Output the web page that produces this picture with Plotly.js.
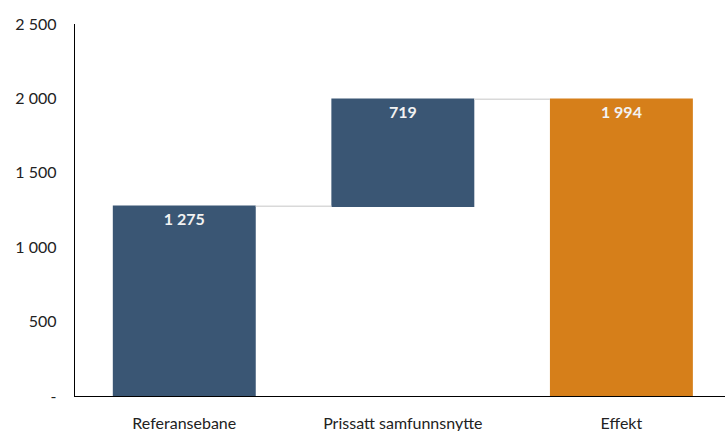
<!DOCTYPE html>
<html>
<head>
<meta charset="utf-8">
<script src="https://cdn.plot.ly/plotly-3.0.1.min.js"></script>
<style>html,body{margin:0;padding:0;background:#fff;}#chart{width:725px;height:431px;}</style>
</head>
<body>
<div id="chart"></div>
<script>
const categories = ["Referansebane", "Prissatt samfunnsnytte", "Effekt"];
const measures = ["relative", "relative", "total"];
const values = [1275, 719, 0];
const barLabels = ["1 275", "719", "1 994"];
const yTickVals = [0, 500, 1000, 1500, 2000, 2500];
const yTickText = ["-", "500", "1 000", "1 500", "2 000", "2 500"];

const trace = {
  type: "waterfall",
  x: categories,
  y: values,
  measure: measures,
  text: barLabels,
  textposition: "inside",
  insidetextanchor: "end",
  textfont: {family: "Lato, 'Open Sans', sans-serif", size: 16, color: "#f2f2f2", weight: "bold"},
  width: 0.654,
  increasing: {marker: {color: "#3A5674"}},
  decreasing: {marker: {color: "#3A5674"}},
  totals: {marker: {color: "#D67F1A"}},
  connector: {mode: "between", line: {color: "#d9d9d9", width: 1.5}},
  hoverinfo: "skip"
};

const layout = {
  width: 725, height: 431,
  margin: {l: 75, r: 0, t: 24, b: 35, pad: 0},
  paper_bgcolor: "#ffffff", plot_bgcolor: "#ffffff",
  showlegend: false,
  font: {family: "Lato, 'Open Sans', sans-serif", size: 16, color: "#222222"},
  xaxis: {
    type: "category",
    range: [-0.5, 2.474],
    showline: true, linecolor: "#000000", linewidth: 1.3,
    showgrid: false, zeroline: false,
    ticks: "outside", ticklen: 12, tickcolor: "rgba(0,0,0,0)",
    tickfont: {size: 16, color: "#222222"}
  },
  yaxis: {
    range: [0, 2500],
    tickvals: yTickVals, ticktext: yTickText,
    showline: true, linecolor: "#000000", linewidth: 1.3,
    showgrid: false, zeroline: false,
    ticks: "outside", ticklen: 14, tickcolor: "rgba(0,0,0,0)",
    tickfont: {size: 16, color: "#222222"}
  }
};

Plotly.newPlot("chart", [trace], layout, {displayModeBar: false, staticPlot: true});
</script>
</body>
</html>
